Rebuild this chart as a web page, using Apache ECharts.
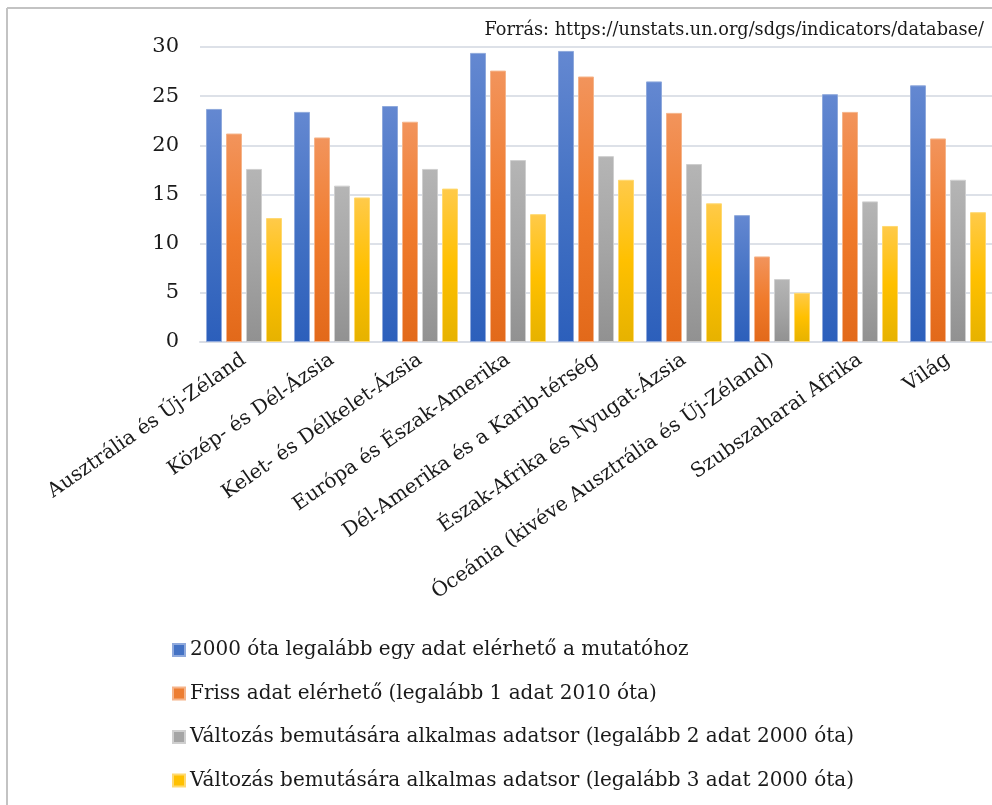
<!DOCTYPE html>
<html>
<head>
<meta charset="utf-8">
<script src="https://cdn.jsdelivr.net/npm/echarts@6/dist/echarts.min.js"></script>
<style>
  html, body { margin: 0; padding: 0; background: #fff; }
  #chart { width: 992px; height: 805px; }
</style>
</head>
<body>
<div id="chart"></div>
<script>
// régiók
var regions = [
  'Ausztrália és Új-Zéland',
  'Közép- és Dél-Ázsia',
  'Kelet- és Délkelet-Ázsia',
  'Európa és Észak-Amerika',
  'Dél-Amerika és a Karib-térség',
  'Észak-Afrika és Nyugat-Ázsia',
  'Óceánia (kivéve Ausztrália és Új-Zéland)',
  'Szubszaharai Afrika',
  'Világ'
];

var seriesNames = [
  '2000 óta legalább egy adat elérhető a mutatóhoz',
  'Friss adat elérhető (legalább 1 adat 2010 óta)',
  'Változás bemutására alkalmas adatsor (legalább 2 adat 2000 óta)',
  'Változás bemutására alkalmas adatsor (legalább 3 adat 2000 óta)'
];

var anyData    = [23.7, 23.4, 24.0, 29.4, 29.6, 26.5, 12.9, 25.2, 26.1];
var recentData = [21.2, 20.8, 22.4, 27.6, 27.0, 23.3, 8.7, 23.4, 20.7];
var twoData    = [17.6, 15.9, 17.6, 18.5, 18.9, 18.1, 6.4, 14.3, 16.5];
var threeData  = [12.6, 14.7, 15.6, 13.0, 16.5, 14.1, 5.0, 11.8, 13.2];

var yTicks = [0, 5, 10, 15, 20, 25, 30];

var font = 'DejaVu Serif';

function grad(top, mid, bottom) {
  return new echarts.graphic.LinearGradient(0, 0, 0, 1, [
    { offset: 0, color: top },
    { offset: 0.5, color: mid },
    { offset: 1, color: bottom }
  ]);
}

var fills = [
  grad('#6488d1', '#4472c4', '#2c5fbb'),
  grad('#f2945c', '#f07b2c', '#e2691a'),
  grad('#b5b5b5', '#a5a5a5', '#919191'),
  grad('#ffca4a', '#ffc000', '#e6b200')
];
var plain = ['#4472c4', '#ed7d31', '#a5a5a5', '#ffc000'];
var edges = ['#8fa9dc', '#f5b48a', '#cfcfcf', '#ffd970'];

var allData = [anyData, recentData, twoData, threeData];

var chart = echarts.init(document.getElementById('chart'));

var series = allData.map(function (d, i) {
  return {
    name: seriesNames[i],
    type: 'bar',
    data: d,
    barWidth: 16,
    barGap: '25%',
    itemStyle: { color: fills[i], borderColor: edges[i], borderWidth: 1 }
  };
});

chart.setOption({
  animation: false,
  color: plain,
  textStyle: { fontFamily: font },
  title: {
    text: 'Forrás: https://unstats.un.org/sdgs/indicators/database/',
    right: 6,
    top: 19,
    padding: [2, 2],
    backgroundColor: '#fff',
    textStyle: { fontFamily: font, fontSize: 17.7, fontWeight: 'normal', color: '#1a1a1a' }
  },
  graphic: [
    { type: 'line', shape: { x1: 7, y1: 8, x2: 7, y2: 805 }, style: { stroke: '#c3c3c3', lineWidth: 2 } },
    { type: 'line', shape: { x1: 7, y1: 8, x2: 992, y2: 8 }, style: { stroke: '#c3c3c3', lineWidth: 2 } }
  ],
  legend: {
    orient: 'vertical',
    left: 167,
    top: 635,
    itemWidth: 12,
    itemHeight: 12,
    itemGap: 23.5,
    icon: 'rect',
    data: seriesNames.map(function (n, i) {
      return { name: n, itemStyle: { color: plain[i] } };
    }),
    textStyle: { fontFamily: font, fontSize: 20, color: '#1a1a1a' }
  },
  grid: { left: 200, right: -14, top: 47, bottom: 463, containLabel: false },
  xAxis: {
    type: 'category',
    data: regions,
    axisLine: { lineStyle: { color: '#d9dde5', width: 2 } },
    axisTick: { show: false },
    axisLabel: {
      rotate: 35,
      interval: 0,
      margin: 16,
      fontFamily: font,
      fontSize: 20,
      color: '#1a1a1a'
    }
  },
  yAxis: {
    type: 'value',
    min: yTicks[0],
    max: yTicks[yTicks.length - 1],
    interval: 5,
    axisLine: { show: false },
    axisTick: { show: false },
    splitLine: { lineStyle: { color: '#dde1e8', width: 2 } },
    axisLabel: { fontFamily: font, fontSize: 21, color: '#1a1a1a', margin: 21 }
  },
  series: series
});
</script>
</body>
</html>
